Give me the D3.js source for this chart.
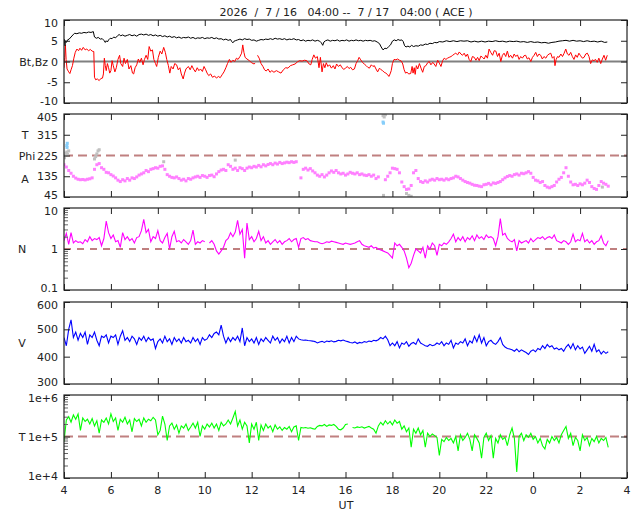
<!DOCTYPE html>
<html><head><meta charset="utf-8">
<script src="https://cdn.jsdelivr.net/npm/d3@7"></script>
<style>
html,body{margin:0;padding:0;background:#fff;}
text{font-family:"DejaVu Sans",sans-serif;font-size:11px;fill:#222;}
</style></head>
<body><svg id="c" width="640" height="512"></svg>
<script>
// ---------------- DATA ----------------
const titleText = "2026  /  7 / 16   04:00 --  7 / 17   04:00 ( ACE )";
const xTickHours = [4,6,8,10,12,14,16,18,20,22,24,26,28];
const xTickLabels = ["4","6","8","10","12","14","16","18","20","22","0","2","4"];
const bzTicks = [10,5,0,-5,-10];
const phiTicks = [405,315,225,135,45];
const nTicks = [10,1,0.1];
const vTicks = [600,500,400,300];
const tTicks = [1e6,1e5,1e4];
const tTickLabels = ["1e+6","1e+5","1e+4"];

// Bt [hour, nT]
const bt = [[4.0,4.4],[4.02,5.3],[4.04,3.8],[4.06,5.0],[4.1,4.6],[4.15,5.2],[4.22,5.4],[4.3,5.9],[4.38,6.4],[4.45,6.8],[4.55,6.7],[4.65,6.9],[4.75,6.8],[4.85,7.0],[4.95,6.9],[5.05,7.1],[5.15,7.0],[5.25,7.2],[5.3,5.9],[5.38,5.6],[5.46,5.8],[5.55,5.4],[5.63,5.5],[5.7,5.1],[5.76,4.6],[5.8,5.0],[5.85,4.7],[5.9,5.2],[5.97,5.6],[6.05,5.5],[6.12,5.9],[6.2,5.7],[6.28,6.2],[6.35,6.5],[6.42,6.2],[6.5,6.4],[6.6,6.1],[6.7,6.3],[6.8,6.5],[6.9,6.2],[7.0,6.4],[7.1,6.1],[7.2,6.5],[7.3,6.6],[7.4,6.4],[7.5,6.6],[7.6,6.3],[7.7,6.5],[7.8,6.2],[7.9,6.4],[8.0,6.1],[8.1,6.3],[8.2,6.0],[8.3,6.2],[8.4,5.9],[8.5,6.1],[8.6,5.8],[8.7,6.0],[8.8,5.7],[8.9,5.9],[9.0,5.6],[9.1,5.8],[9.2,5.7],[9.3,5.9],[9.4,5.6],[9.5,5.8],[9.6,5.5],[9.7,5.7],[9.8,5.6],[9.9,5.8],[10.0,5.5],[10.1,5.7],[10.2,5.6],[10.3,5.8],[10.4,5.5],[10.5,5.7],[10.6,5.4],[10.7,5.5],[10.8,5.2],[10.9,5.4],[11.0,5.1],[11.1,5.3],[11.15,4.8],[11.2,4.5],[11.25,4.9],[11.3,5.0],[11.4,5.2],[11.5,5.4],[11.6,5.2],[11.7,5.5],[11.8,5.3],[11.9,5.4],[12.0,5.1],[12.1,5.2],[12.2,4.9],[12.3,5.1],[12.4,5.3],[12.5,5.2],[12.6,5.4],[12.7,5.3],[12.8,5.5],[12.9,5.3],[13.0,5.6],[13.1,5.4],[13.2,5.5],[13.3,5.3],[13.4,5.5],[13.5,5.2],[13.6,5.4],[13.7,5.3],[13.8,5.5],[13.9,5.2],[14.0,5.3],[14.1,5.0],[14.2,5.2],[14.3,4.9],[14.4,5.1],[14.5,5.0],[14.6,5.2],[14.7,4.9],[14.8,5.1],[14.9,4.9],[14.97,4.5],[15.03,3.9],[15.08,4.7],[15.15,5.0],[15.25,5.2],[15.35,4.9],[15.45,5.1],[15.55,5.0],[15.65,5.2],[15.75,4.9],[15.85,5.1],[15.95,5.0],[16.05,5.2],[16.15,4.9],[16.25,5.1],[16.35,5.0],[16.45,5.2],[16.55,5.0],[16.65,5.1],[16.75,4.9],[16.85,5.1],[16.95,5.0],[17.05,5.1],[17.15,4.9],[17.25,5.0],[17.35,4.7],[17.45,4.3],[17.52,3.5],[17.6,2.8],[17.68,3.2],[17.76,3.1],[17.84,3.6],[17.92,4.0],[18.0,4.9],[18.08,5.2],[18.16,5.0],[18.24,5.3],[18.32,5.1],[18.4,5.2],[18.46,4.8],[18.52,3.8],[18.58,3.5],[18.66,3.7],[18.74,3.5],[18.82,3.9],[18.9,3.6],[19.0,3.8],[19.1,3.7],[19.2,4.0],[19.3,3.9],[19.4,4.2],[19.5,4.1],[19.6,4.4],[19.7,4.3],[19.8,4.6],[19.9,4.5],[20.0,4.8],[20.15,4.7],[20.3,5.0],[20.45,4.8],[20.6,5.0],[20.75,4.8],[20.9,5.0],[21.05,4.9],[21.2,5.0],[21.35,4.7],[21.5,4.9],[21.65,4.7],[21.8,4.9],[21.95,4.7],[22.1,4.9],[22.25,4.8],[22.4,5.0],[22.55,4.8],[22.7,4.9],[22.85,4.7],[23.0,4.9],[23.15,4.8],[23.3,4.9],[23.45,4.7],[23.6,4.8],[23.75,4.6],[23.9,4.8],[24.05,4.6],[24.2,4.7],[24.35,4.5],[24.5,4.6],[24.65,4.4],[24.8,4.6],[24.95,4.7],[25.1,4.9],[25.25,5.0],[25.4,5.1],[25.55,4.9],[25.7,5.1],[25.85,4.9],[26.0,5.0],[26.15,4.8],[26.3,5.0],[26.45,4.8],[26.6,4.9],[26.75,4.7],[26.9,4.9],[27.05,4.6],[27.16,4.7]];

// Bz [hour, nT]
const bz = [[4.0,-1.5],[4.03,1.0],[4.06,4.0],[4.09,0.5],[4.13,-1.8],[4.2,-2.5],[4.25,-2.9],[4.3,-2.0],[4.36,-1.0],[4.42,0.8],[4.48,2.2],[4.55,3.0],[4.62,2.6],[4.68,3.2],[4.75,2.7],[4.82,3.4],[4.9,2.8],[4.97,3.0],[5.05,2.6],[5.12,2.9],[5.2,2.5],[5.27,2.4],[5.3,-3.8],[5.35,-4.4],[5.42,-4.2],[5.5,-4.6],[5.57,-4.1],[5.64,-4.0],[5.68,-3.0],[5.72,0.8],[5.76,-1.0],[5.8,-2.2],[5.85,-0.5],[5.9,-1.5],[5.95,-2.8],[6.0,-2.2],[6.05,0.2],[6.1,-1.0],[6.17,-2.5],[6.23,-1.5],[6.3,0.5],[6.37,1.5],[6.42,-0.5],[6.5,-1.2],[6.56,0.8],[6.62,-0.5],[6.7,0.5],[6.77,-1.8],[6.85,-1.0],[6.92,-2.8],[6.97,-3.0],[7.03,-1.5],[7.1,-0.8],[7.17,0.6],[7.23,-0.2],[7.3,0.8],[7.37,-0.8],[7.43,0.5],[7.5,1.5],[7.57,0.5],[7.63,3.6],[7.7,2.5],[7.77,2.8],[7.83,0.5],[7.9,-0.5],[7.95,-1.2],[8.02,1.0],[8.1,2.5],[8.17,1.8],[8.25,3.4],[8.32,2.2],[8.38,0.5],[8.45,-1.0],[8.51,-2.8],[8.57,-1.2],[8.65,-1.8],[8.72,-0.5],[8.8,-0.8],[8.87,-2.0],[8.94,-1.5],[9.0,-3.0],[9.08,-4.2],[9.14,-2.8],[9.2,-1.8],[9.3,-1.2],[9.38,-2.0],[9.45,-1.0],[9.52,-1.8],[9.6,-2.5],[9.68,-1.5],[9.75,-2.2],[9.82,-1.8],[9.9,-2.4],[9.97,-1.2],[10.04,-2.0],[10.1,-2.8],[10.17,-3.4],[10.25,-3.0],[10.33,-3.8],[10.42,-3.5],[10.5,-4.0],[10.58,-3.6],[10.66,-3.9],[10.74,-3.2],[10.82,-2.5],[10.9,-1.5],[10.97,-0.5],[11.05,0.5],[11.12,-0.2],[11.2,0.3],[11.28,0.0],[11.35,0.8],[11.42,0.5],[11.5,1.2],[11.57,2.0],[11.62,4.0],[11.67,2.2],[11.72,1.0],[11.8,0.6],[11.9,0.2],[12.0,-0.3],[12.1,-0.6],[12.15,-0.4],[12.2,null],[12.25,1.5],[12.32,0.8],[12.4,-0.5],[12.48,-1.2],[12.55,-2.0],[12.62,-2.3],[12.7,-1.8],[12.78,-2.6],[12.86,-2.2],[12.95,-2.6],[13.05,-2.2],[13.15,-2.5],[13.25,-2.8],[13.35,-2.0],[13.45,-1.5],[13.55,-1.6],[13.65,-1.0],[13.75,-0.8],[13.85,-0.6],[13.95,-0.1],[14.04,0.2],[14.15,0.1],[14.25,0.3],[14.35,0.2],[14.45,-0.6],[14.52,-0.8],[14.58,0.5],[14.65,1.6],[14.72,0.8],[14.8,1.2],[14.87,-1.5],[14.93,1.0],[15.0,-2.5],[15.06,-0.5],[15.12,-1.5],[15.18,-0.3],[15.25,-1.2],[15.32,-0.8],[15.4,-1.6],[15.48,-1.0],[15.55,-1.8],[15.62,-0.6],[15.7,-1.2],[15.78,-0.8],[15.85,-1.5],[15.93,-1.9],[16.0,-1.6],[16.08,-1.2],[16.15,-1.7],[16.22,-1.4],[16.3,-2.0],[16.38,-1.8],[16.45,-0.5],[16.52,0.2],[16.58,1.0],[16.65,0.4],[16.72,-0.2],[16.8,-0.6],[16.88,-1.0],[16.95,-1.4],[17.02,-1.6],[17.1,-0.8],[17.17,-1.2],[17.23,-1.0],[17.3,-1.8],[17.37,-2.5],[17.45,-1.6],[17.52,-2.0],[17.58,-2.2],[17.65,-2.6],[17.72,-2.8],[17.8,-3.2],[17.85,-3.6],[17.9,-3.0],[17.95,-2.2],[18.0,-0.5],[18.07,0.5],[18.15,0.4],[18.22,0.6],[18.3,0.3],[18.38,0.1],[18.44,-0.6],[18.5,-2.0],[18.56,-2.8],[18.62,-2.6],[18.7,-3.0],[18.78,-2.9],[18.84,-1.2],[18.88,-2.8],[18.93,-1.5],[18.97,-3.1],[19.02,-1.0],[19.08,-1.8],[19.15,-0.5],[19.22,-1.6],[19.29,-2.6],[19.36,-1.2],[19.43,-1.0],[19.5,-0.3],[19.57,0.0],[19.64,-0.8],[19.72,-0.2],[19.78,-0.6],[19.85,-1.2],[19.93,0.3],[20.0,-0.4],[20.07,-1.2],[20.14,0.2],[20.21,0.8],[20.28,0.5],[20.35,0.8],[20.42,1.0],[20.5,1.2],[20.57,1.5],[20.64,1.8],[20.7,2.0],[20.78,1.6],[20.85,2.3],[20.92,1.8],[20.99,1.5],[21.06,2.0],[21.13,1.2],[21.2,1.8],[21.27,0.5],[21.34,0.0],[21.41,1.2],[21.49,1.0],[21.56,0.3],[21.63,1.0],[21.7,0.2],[21.77,1.3],[21.84,1.0],[21.91,0.6],[21.98,1.5],[22.05,0.8],[22.12,3.0],[22.19,2.2],[22.27,1.5],[22.34,2.6],[22.41,2.5],[22.48,1.2],[22.55,2.0],[22.62,0.0],[22.69,1.5],[22.76,2.0],[22.83,1.2],[22.9,2.5],[22.97,1.0],[23.04,1.5],[23.12,0.8],[23.19,1.8],[23.26,1.2],[23.33,1.6],[23.4,0.5],[23.47,1.2],[23.54,0.8],[23.61,1.4],[23.68,1.5],[23.75,0.6],[23.82,0.9],[23.9,0.0],[23.97,1.0],[24.04,1.5],[24.11,2.2],[24.18,1.2],[24.25,1.8],[24.32,1.5],[24.39,0.6],[24.46,1.2],[24.54,0.8],[24.61,1.5],[24.68,1.8],[24.75,2.0],[24.82,0.8],[24.89,1.2],[24.93,-1.0],[24.98,0.5],[25.04,1.2],[25.1,1.0],[25.18,1.8],[25.25,1.2],[25.32,2.0],[25.39,3.0],[25.46,1.8],[25.53,1.5],[25.6,2.2],[25.67,1.2],[25.74,0.5],[25.81,1.6],[25.88,1.0],[25.95,2.0],[26.02,1.4],[26.1,0.8],[26.17,1.0],[26.24,1.8],[26.31,2.0],[26.38,1.2],[26.45,-0.5],[26.52,0.4],[26.59,0.2],[26.66,0.5],[26.73,-0.2],[26.8,0.8],[26.88,-0.5],[26.95,0.6],[27.02,1.5],[27.09,0.3],[27.16,1.5]];

// Uniformly sampled series: first hour and sample step (hours)
const sampleStart = 4.0;
const sampleStep = 0.1;

// Phi angle (deg), one value per sample
const phi = [185,175,160,148,135,127,122,120,121,119,122,124,128,165,185,190,172,165,152,150,142,136,128,118,112,120,115,125,118,128,125,132,140,145,150,160,155,165,168,172,170,178,180,165,142,135,130,128,132,125,118,122,115,125,122,128,132,135,130,138,135,130,138,140,133,145,155,162,165,160,185,178,165,170,160,172,168,160,170,175,172,178,175,182,176,185,180,186,190,185,192,188,195,190,193,196,194,198,195,198,null,128,165,170,162,168,158,150,140,135,142,132,140,150,158,152,160,150,145,148,140,145,152,148,145,150,142,145,140,138,142,135,140,125,132,null,null,120,135,150,170,168,165,150,110,90,78,80,95,150,160,125,112,108,115,110,118,122,118,125,120,122,118,124,120,125,128,135,132,125,118,112,108,105,100,96,95,92,90,98,100,104,98,106,104,108,112,120,128,134,138,135,142,145,140,148,146,150,155,148,130,118,115,108,112,95,88,85,90,95,110,122,130,150,172,135,110,98,100,95,102,98,105,118,108,90,82,78,95,112,105,100,92];
// Phi flagged (grey) and alternate (light blue) points [hour, deg]
const phiGrey = [[4.02,215],[4.05,225],[4.08,235],[4.12,240],[4.15,230],[4.2,245],[5.3,210],[5.35,220],[5.4,232],[5.45,245],[5.5,250],[8.25,198],[11.3,205],[17.6,398],[17.65,392],[17.7,402],[17.62,52],[18.6,60],[18.7,52],[18.8,48],[26.95,88]];
const phiBlue = [[4.12,268],[4.14,278],[4.13,260],[17.6,370],[17.62,365]];

// Density N (/cc)
const dens = [1.6,2.4,1.3,2.5,1.4,1.6,1.45,1.5,1.35,1.7,1.5,2.0,1.6,1.8,1.7,1.9,1.2,1.8,4.8,2.5,1.8,2.2,1.5,1.6,1.1,2.5,1.7,2.0,1.6,1.8,1.4,1.9,2.0,2.8,5.3,2.5,3.0,1.5,2.0,1.8,2.8,1.6,1.4,1.9,2.4,1.0,2.0,2.7,1.5,1.6,1.4,1.7,1.5,1.3,1.6,2.9,1.3,1.5,1.4,1.6,1.5,null,1.4,1.6,1.3,0.9,0.75,0.9,1.1,1.6,1.8,2.5,2.0,2.6,5.0,2.3,3.0,0.6,4.3,1.7,2.0,1.5,1.8,2.7,1.6,2.0,1.4,1.6,1.3,1.5,1.7,1.4,1.6,1.3,1.5,1.6,1.8,1.5,1.7,1.8,1.1,1.8,1.9,1.7,1.8,1.6,1.55,1.5,1.5,1.4,1.35,1.4,1.5,1.45,1.55,1.5,1.45,1.4,1.35,1.3,1.4,1.35,1.3,1.35,1.4,1.5,1.6,1.3,1.2,1.15,1.1,1.2,1.05,1.1,1.0,0.95,0.9,0.85,0.8,0.7,0.6,1.4,1.2,1.3,1.1,0.9,0.6,0.35,0.45,0.7,1.0,0.9,0.8,1.1,0.6,1.2,1.0,1.4,1.2,0.7,1.3,1.2,1.4,1.3,1.5,1.8,2.3,1.5,1.9,1.6,2.0,1.5,1.9,1.7,2.1,1.6,2.2,1.8,2.0,1.7,2.2,1.9,2.0,1.8,1.2,2.0,5.5,2.2,2.4,1.8,1.6,1.5,1.7,0.9,1.6,1.4,1.5,1.6,1.4,1.8,1.5,1.7,1.9,1.8,2.0,1.7,1.9,2.0,1.8,2.2,1.6,1.5,1.4,1.6,1.5,1.3,1.5,2.3,1.5,1.7,1.6,2.4,1.5,1.7,1.4,1.6,1.3,1.5,1.6,2.1,1.4,1.2,1.6];

// Speed V (km/s)
const speed = [470,440,500,535,470,490,460,485,470,490,445,480,470,490,460,440,475,470,480,450,475,470,480,445,475,495,460,470,455,475,465,445,470,460,475,455,470,460,465,430,455,465,450,475,455,465,445,470,455,465,450,470,455,460,450,470,455,465,445,470,460,465,480,470,485,490,480,515,475,450,470,455,470,460,475,455,505,440,470,455,465,450,470,445,465,455,470,460,450,475,460,470,450,465,455,475,450,470,455,475,465,462,460,461,459,458,457,455,450,454,456,452,457,455,458,454,456,460,458,461,457,455,452,450,454,448,452,450,455,453,457,455,460,458,462,470,465,475,462,440,450,440,455,432,450,445,455,438,448,452,445,465,450,445,440,438,445,440,443,450,445,455,440,450,445,460,432,450,445,455,450,465,440,458,450,475,455,480,450,470,440,455,460,450,445,455,470,445,435,430,428,425,420,428,418,425,420,415,408,420,425,418,430,425,440,430,445,435,440,428,432,425,430,420,435,445,430,448,425,440,428,435,412,425,438,420,445,418,425,410,420,412,418];

// Temperature T (K)
const temp = [75e3,250e3,300e3,220e3,330e3,260e3,350e3,140e3,280e3,230e3,260e3,200e3,270e3,180e3,240e3,120e3,250e3,220e3,280e3,200e3,350e3,230e3,280e3,140e3,260e3,220e3,290e3,200e3,250e3,130e3,270e3,230e3,260e3,180e3,280e3,220e3,260e3,240e3,290e3,250e3,110e3,140e3,310e3,200e3,80e3,180e3,210e3,150e3,190e3,120e3,180e3,160e3,200e3,140e3,170e3,210e3,160e3,220e3,100e3,180e3,150e3,200e3,170e3,210e3,160e3,200e3,140e3,220e3,180e3,200e3,250e3,200e3,280e3,400e3,180e3,250e3,150e3,220e3,180e3,70e3,200e3,150e3,220e3,80e3,190e3,140e3,200e3,160e3,180e3,130e3,190e3,150e3,170e3,140e3,165e3,150e3,175e3,130e3,170e3,180e3,80e3,165e3,160e3,165e3,158e3,162e3,155e3,150e3,175e3,185e3,180e3,195e3,175e3,190e3,185e3,195e3,175e3,150e3,145e3,160e3,195e3,200e3,null,165e3,160e3,170e3,165e3,172e3,160e3,168e3,175e3,160e3,150e3,120e3,180e3,220e3,190e3,240e3,200e3,230e3,190e3,250e3,210e3,230e3,150e3,180e3,130e3,160e3,55e3,150e3,120e3,160e3,110e3,140e3,55e3,120e3,100e3,115e3,105e3,95e3,35e3,85e3,75e3,95e3,80e3,90e3,70e3,100e3,45e3,110e3,80e3,95e3,120e3,85e3,45e3,110e3,90e3,70e3,30e3,95e3,120e3,80e3,105e3,30e3,90e3,70e3,110e3,85e3,95e3,60e3,110e3,160e3,90e3,14e3,100e3,120e3,80e3,110e3,95e3,120e3,85e3,100e3,70e3,90e3,60e3,50e3,85e3,70e3,100e3,80e3,95e3,70e3,110e3,140e3,175e3,90e3,120e3,60e3,95e3,80e3,45e3,110e3,80e3,95e3,60e3,90e3,75e3,100e3,70e3,90e3,80e3,95e3,55e3];

// ---------------- DRAWING ----------------
const svg = d3.select("#c");
const X0 = 64, X1 = 627;
const x = d3.scaleLinear().domain([4, 28]).range([X0, X1]);
const panels = [
  {y0: 20,  y1: 103},
  {y0: 114, y1: 197},
  {y0: 208, y1: 290},
  {y0: 302, y1: 384},
  {y0: 395, y1: 478}
];
const yBz  = d3.scaleLinear().domain([-10, 10]).range([panels[0].y1, panels[0].y0]);
const yPhi = d3.scaleLinear().domain([45, 405]).range([panels[1].y1, panels[1].y0]);
const yN   = d3.scaleLog().domain([0.1, 10]).range([panels[2].y1, panels[2].y0]);
const yV   = d3.scaleLinear().domain([300, 600]).range([panels[3].y1, panels[3].y0]);
const yT   = d3.scaleLog().domain([1e4, 1e6]).range([panels[4].y1, panels[4].y0]);

const sampled = arr => arr.map((v, i) => [sampleStart + i * sampleStep, v]);

// clip paths
const defs = svg.append("defs");
panels.forEach((p, i) => {
  defs.append("clipPath").attr("id", "clip" + i)
    .append("rect").attr("x", X0).attr("y", p.y0).attr("width", X1 - X0).attr("height", p.y1 - p.y0);
});

// title
svg.append("text").attr("x", 346).attr("y", 16).attr("text-anchor", "middle")
  .style("white-space", "pre").attr("xml:space", "preserve").text(titleText);

function lineGen(ys) {
  return d3.line().defined(d => d[1] != null).x(d => x(d[0])).y(d => ys(d[1]));
}

function hLine(i, ys, val, color, width, dash) {
  svg.append("line").attr("clip-path", "url(#clip" + i + ")")
    .attr("x1", X0).attr("x2", X1).attr("y1", ys(val)).attr("y2", ys(val))
    .attr("stroke", color).attr("stroke-width", width)
    .attr("stroke-dasharray", dash || null);
}

// ----- panel 1: Bt, Bz
hLine(0, yBz, 0, "#808080", 2);
const g0 = svg.append("g").attr("clip-path", "url(#clip0)");
g0.append("path").datum(bz).attr("d", lineGen(yBz)).attr("fill", "none").attr("stroke", "#ff0000").attr("stroke-width", 1);
g0.append("path").datum(bt).attr("d", lineGen(yBz)).attr("fill", "none").attr("stroke", "#000000").attr("stroke-width", 1);

// ----- panel 2: Phi
hLine(1, yPhi, 225, "#c08080", 2, "9,5");
const g1 = svg.append("g").attr("clip-path", "url(#clip1)");
g1.selectAll("rect.phi").data(sampled(phi).filter(d => d[1] != null)).enter().append("rect")
  .attr("x", d => x(d[0]) - 1.5).attr("y", d => yPhi(d[1]) - 1.5).attr("width", 3).attr("height", 3)
  .attr("fill", "#ff80ff");
g1.selectAll("rect.grey").data(phiGrey).enter().append("rect")
  .attr("x", d => x(d[0]) - 1.5).attr("y", d => yPhi(d[1]) - 1.5).attr("width", 3).attr("height", 3)
  .attr("fill", "#c0c0c0");
g1.selectAll("rect.blue").data(phiBlue).enter().append("rect")
  .attr("x", d => x(d[0]) - 1.5).attr("y", d => yPhi(d[1]) - 1.5).attr("width", 3).attr("height", 3)
  .attr("fill", "#87cefa");

// ----- panel 3: N
hLine(2, yN, 1, "#800000", 1.2, "7,6");
svg.append("g").attr("clip-path", "url(#clip2)").append("path").datum(sampled(dens))
  .attr("d", lineGen(yN)).attr("fill", "none").attr("stroke", "#ff00ff").attr("stroke-width", 1.1);

// ----- panel 4: V
svg.append("g").attr("clip-path", "url(#clip3)").append("path").datum(sampled(speed))
  .attr("d", lineGen(yV)).attr("fill", "none").attr("stroke", "#0000ff").attr("stroke-width", 1.1);

// ----- panel 5: T
hLine(4, yT, 1e5, "#c08080", 2, "9,5");
svg.append("g").attr("clip-path", "url(#clip4)").append("path").datum(sampled(temp))
  .attr("d", lineGen(yT)).attr("fill", "none").attr("stroke", "#00ff00").attr("stroke-width", 1.1);

// ----- frames and axes
const yScales = [yBz, yPhi, yN, yV, yT];
const yTickSets = [bzTicks, phiTicks, nTicks, vTicks, tTicks];
const yLabelFns = [d => String(d), d => String(d), d => String(d), d => String(d), d => tTickLabels[tTicks.indexOf(d)]];

panels.forEach((p, i) => {
  const g = svg.append("g");
  const xb = d3.axisTop(x).tickValues(xTickHours).tickSize(6).tickFormat("");
  g.append("g").attr("transform", `translate(0,${p.y1})`).call(xb);
  const xt = d3.axisBottom(x).tickValues(xTickHours).tickSize(6).tickFormat("");
  g.append("g").attr("transform", `translate(0,${p.y0})`).call(xt);
  const ys = yScales[i];
  const yl = d3.axisRight(ys).tickValues(yTickSets[i]).tickSize(6).tickFormat("");
  g.append("g").attr("transform", `translate(${X0},0)`).call(yl);
  const yr = d3.axisLeft(ys).tickValues(yTickSets[i]).tickSize(6).tickFormat("");
  g.append("g").attr("transform", `translate(${X1},0)`).call(yr);
  if (i === 2 || i === 4) {
    const dom = ys.domain();
    const minors = ys.ticks().filter(v => yTickSets[i].indexOf(v) < 0 && v > dom[0] && v < dom[1]);
    const ym = d3.axisRight(ys).tickValues(minors).tickSize(4).tickFormat("");
    const gm = g.append("g").attr("transform", `translate(${X0},0)`).call(ym);
    gm.selectAll("line").attr("stroke", "#666");
  }
  g.selectAll(".domain").remove();
  g.selectAll("line").attr("stroke-width", 1);
  g.selectAll(".tick line").filter(function(){return !this.getAttribute("stroke") || this.getAttribute("stroke")==="currentColor";}).attr("stroke", "#222");
  // tick labels (top label nudged down, bottom label nudged up so neighbours don't collide)
  const n = yTickSets[i].length;
  yTickSets[i].forEach((v, k) => {
    const dy = k === 0 ? 6.5 : (k === n - 1 ? 1.5 : 4);
    svg.append("text").attr("x", 58).attr("y", ys(v) + dy).attr("text-anchor", "end").text(yLabelFns[i](v));
  });
  svg.append("rect").attr("x", X0).attr("y", p.y0).attr("width", X1 - X0).attr("height", p.y1 - p.y0)
    .attr("fill", "none").attr("stroke", "#222").attr("stroke-width", 1.2);
});

// x tick labels
xTickHours.forEach((h, i) => {
  svg.append("text").attr("x", x(h)).attr("y", 494).attr("text-anchor", "middle").text(xTickLabels[i]);
});
svg.append("text").attr("x", 346).attr("y", 509).attr("text-anchor", "middle").text("UT");

// side labels
svg.append("text").attr("x", 48).attr("y", 66).attr("text-anchor", "end").text("Bt,Bz");
svg.append("text").attr("x", 25).attr("y", 139).attr("text-anchor", "middle").text("T");
svg.append("text").attr("x", 27).attr("y", 160).attr("text-anchor", "middle").text("Phi");
svg.append("text").attr("x", 25).attr("y", 183).attr("text-anchor", "middle").text("A");
svg.append("text").attr("x", 22).attr("y", 253).attr("text-anchor", "middle").text("N");
svg.append("text").attr("x", 22).attr("y", 347).attr("text-anchor", "middle").text("V");
svg.append("text").attr("x", 22).attr("y", 441).attr("text-anchor", "middle").text("T");
</script></body></html>
